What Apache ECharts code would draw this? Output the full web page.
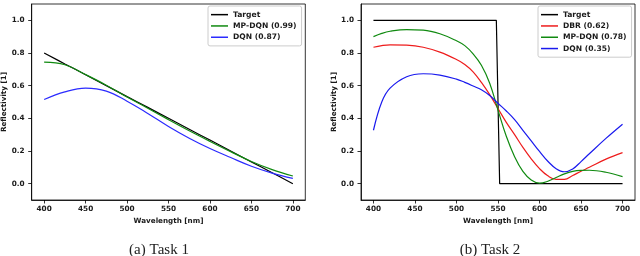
<!DOCTYPE html>
<html>
<head>
<meta charset="utf-8">
<script src="https://cdn.jsdelivr.net/npm/echarts@6/dist/echarts.min.js"></script>
<style>html,body{margin:0;padding:0;background:#fff;}#c{width:640px;height:256px;}</style>
</head>
<body>
<div id="c"></div>
<script>
// ---- Panel (a): Task 1 ----
const wlA = [400, 425, 450, 475, 500, 525, 550, 575, 600, 625, 650, 675, 700];
const targetA = [0.800, 0.733, 0.667, 0.600, 0.533, 0.467, 0.400, 0.333, 0.267, 0.200, 0.133, 0.067, 0.000];
const mpdqnA  = [0.744, 0.728, 0.668, 0.603, 0.530, 0.462, 0.392, 0.324, 0.259, 0.196, 0.136, 0.086, 0.047];
const dqnA    = [0.515, 0.562, 0.585, 0.567, 0.505, 0.430, 0.350, 0.278, 0.215, 0.160, 0.107, 0.065, 0.032];
const legendA = ['Target', 'MP-DQN (0.99)', 'DQN (0.87)'];

// ---- Panel (b): Task 2 ----
const wlTargetB = [400, 548, 552, 700];
const targetB   = [1, 1, 0, 0];
const wlB    = [400, 410, 420, 440, 460, 480, 500, 510, 520, 530, 540, 550, 560, 570, 580, 590, 600, 610, 620, 630, 640, 650, 660, 680, 700];
const dbrB   = [0.835, 0.845, 0.850, 0.848, 0.835, 0.805, 0.760, 0.730, 0.685, 0.620, 0.545, 0.460, 0.375, 0.300, 0.222, 0.152, 0.092, 0.048, 0.026, 0.026, 0.050, 0.076, 0.100, 0.150, 0.190];
const mpdqnB = [0.900, 0.920, 0.933, 0.943, 0.940, 0.918, 0.875, 0.845, 0.795, 0.725, 0.615, 0.450, 0.290, 0.165, 0.075, 0.022, 0.003, 0.015, 0.038, 0.060, 0.075, 0.081, 0.082, 0.070, 0.043];
const dqnB   = [0.327, 0.500, 0.585, 0.655, 0.673, 0.665, 0.640, 0.620, 0.598, 0.575, 0.540, 0.492, 0.445, 0.392, 0.327, 0.262, 0.197, 0.137, 0.092, 0.073, 0.090, 0.135, 0.183, 0.277, 0.364];
const legendB = ['Target', 'DBR (0.62)', 'MP-DQN (0.78)', 'DQN (0.35)'];

// ---- Shared axis ticks & texts ----
const xTicks = [400, 450, 500, 550, 600, 650, 700];
const yTicks = [0.0, 0.2, 0.4, 0.6, 0.8, 1.0];
const xName = 'Wavelength [nm]';
const yName = 'Reflectivity [1]';
const captions = ['(a) Task 1', '(b) Task 2'];

const zip = (xs, ys) => xs.map((x, i) => [x, ys[i]]);
const SANS = 'DejaVu Sans';
const TXT = '#1a1a1a';

function xAxis(gi) {
  return {
    type: 'value', gridIndex: gi, min: 385, max: 715,
    name: xName, nameLocation: 'middle', nameGap: 16.5,
    nameTextStyle: { fontFamily: SANS, fontSize: 7.2, fontWeight: 'bold', color: TXT },
    axisLine: { show: true, onZero: false, lineStyle: { color: '#000', width: 0.8 } },
    axisTick: { show: true, length: 3.5, lineStyle: { color: '#000', width: 0.8 }, customValues: xTicks },
    axisLabel: { customValues: xTicks, margin: 5.5, fontFamily: SANS, fontSize: 7.3, fontWeight: 'bold', color: TXT },
    splitLine: { show: false }
  };
}
function yAxis(gi) {
  return {
    type: 'value', gridIndex: gi, min: -0.1, max: 1.1,
    name: yName, nameLocation: 'middle', nameGap: 23.5, nameRotate: 90,
    nameTextStyle: { fontFamily: SANS, fontSize: 7.2, fontWeight: 'bold', color: TXT },
    axisLine: { show: true, onZero: false, lineStyle: { color: '#000', width: 0.8 } },
    axisTick: { show: true, length: 3.5, lineStyle: { color: '#000', width: 0.8 }, customValues: yTicks },
    axisLabel: { customValues: yTicks, margin: 7, fontFamily: SANS, fontSize: 7.3, fontWeight: 'bold', color: TXT,
      formatter: v => v.toFixed(1) },
    splitLine: { show: false }
  };
}
function line(name, data, color, gi, smooth) {
  return {
    type: 'line', name, data, xAxisIndex: gi, yAxisIndex: gi,
    showSymbol: false, symbol: 'none', smooth: smooth ? 0.4 : false,
    lineStyle: { color, width: 1.2 }, itemStyle: { color },
    animation: false, z: 3
  };
}
function legend(gi, data, left) {
  return {
    data, orient: 'vertical', left, top: 6,
    icon: 'rect', itemWidth: 17, itemHeight: 1.5, itemGap: 0,
    padding: [3, 5, 3, 3],
    backgroundColor: '#fff', borderColor: '#ccc', borderWidth: 1, borderRadius: 2,
    textStyle: { fontFamily: SANS, fontSize: 7.6, fontWeight: 'bold', color: TXT, lineHeight: 11.3 },
    itemStyle: { borderWidth: 0 }
  };
}

const chart = echarts.init(document.getElementById('c'), null, { renderer: 'canvas' });
chart.setOption({
  animation: false,
  backgroundColor: '#fff',
  title: [
    { text: captions[0], left: 154, top: 238, textAlign: 'center',
      textStyle: { fontFamily: 'Liberation Serif', fontSize: 15, fontWeight: 'normal', color: '#222' } },
    { text: captions[1], left: 485, top: 238, textAlign: 'center',
      textStyle: { fontFamily: 'Liberation Serif', fontSize: 15, fontWeight: 'normal', color: '#222' } }
  ],
  grid: [
    { left: 31.7, right: 334.7, top: 4, bottom: 56, show: true, borderColor: '#000', borderWidth: 0.8, backgroundColor: 'transparent', containLabel: false, outerBoundsMode: 'none' },
    { left: 361, right: 5, top: 4, bottom: 56, show: true, borderColor: '#000', borderWidth: 0.8, backgroundColor: 'transparent', containLabel: false, outerBoundsMode: 'none' }
  ],
  xAxis: [xAxis(0), xAxis(1)],
  yAxis: [yAxis(0), yAxis(1)],
  legend: [legend(0, legendA, 208), legend(1, legendB, 538)],
  series: [
    line('Target', zip(wlA, targetA), '#000000', 0, true),
    line('MP-DQN (0.99)', zip(wlA, mpdqnA), '#108a10', 0, true),
    line('DQN (0.87)', zip(wlA, dqnA), '#2b2bff', 0, true),
    line('Target', zip(wlTargetB, targetB), '#000000', 1, false),
    line('DBR (0.62)', zip(wlB, dbrB), '#ee1c1c', 1, true),
    line('MP-DQN (0.78)', zip(wlB, mpdqnB), '#108a10', 1, true),
    line('DQN (0.35)', zip(wlB, dqnB), '#1a1aee', 1, true)
  ]
});
</script>
</body>
</html>
